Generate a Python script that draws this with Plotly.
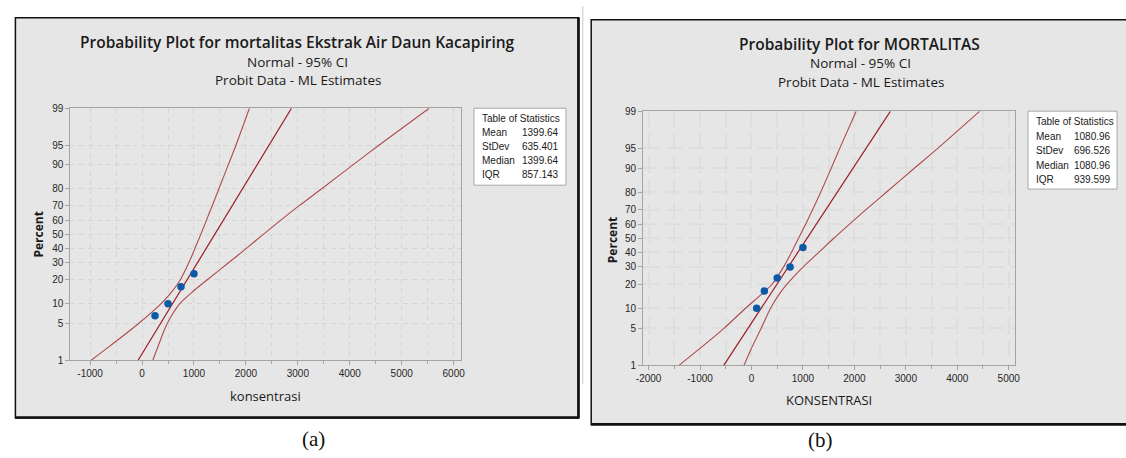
import plotly.graph_objects as go
from statistics import NormalDist

W, H = 1126, 458
_nd = NormalDist()


def pz(p):
    return _nd.inv_cdf(p / 100.0)


def fx(x):
    return x / W


def fy(y):
    return 1 - y / H


# ---------------- data: panel (a) ----------------
conc_a = [250, 500, 750, 1000]
mort_a = [6.67, 10.0, 16.67, 23.33]
ci_pct = [1, 2, 5, 10, 15, 20, 30, 40, 50, 60, 70, 80, 90, 95, 99]
ci_low_a = [-985, -610, -66, 362, 591, 735, 900, 1022, 1131, 1237, 1349, 1480, 1660, 1808, 2067]
ci_up_a = [206, 313, 485, 724, 1000, 1250, 1665, 2015, 2335, 2660, 3020, 3460, 4060, 4560, 5528]
mean_a, sd_a = 1399.64, 635.401
stat_names = ["Mean", "StDev", "Median", "IQR"]
stat_a = ["1399.64", "635.401", "1399.64", "857.143"]
xticks_a = [-1000, 0, 1000, 2000, 3000, 4000, 5000, 6000]

# ---------------- data: panel (b) ----------------
conc_b = [100, 250, 500, 750, 1000]
mort_b = [10.0, 16.67, 23.33, 30.0, 43.33]
ci_low_b = [-1408, -1050, -530, -115, 180, 400, 625, 780, 915, 1050, 1190, 1345, 1550, 1715, 2035]
ci_up_b = [-144, -20, 190, 370, 530, 690, 1005, 1313, 1600, 1900, 2225, 2620, 3165, 3620, 4438]
mean_b, sd_b = 1080.96, 696.526
stat_b = ["1080.96", "696.526", "1080.96", "939.599"]
xticks_b = [-2000, -1000, 0, 1000, 2000, 3000, 4000, 5000]

pct_ticks = [1, 5, 10, 20, 30, 40, 50, 60, 70, 80, 90, 95, 99]
fit_pct = [1, 99]

FIT_C = "#9e1a22"
CI_C = "#b04a4c"
PT_C = "#0b5aa8"
SANS = "Open Sans, Noto Sans, sans-serif"
SMALL = "Liberation Sans, Arial, sans-serif"

fig = go.Figure()


def add_panel(xa, ya, conc, mort, lo, up, mean, sd):
    fig.add_trace(go.Scatter(x=lo, y=[pz(p) for p in ci_pct], mode="lines",
                             line=dict(color=CI_C, width=1.1, shape="spline", smoothing=0.8),
                             xaxis=xa, yaxis=ya, hoverinfo="skip"))
    fig.add_trace(go.Scatter(x=up, y=[pz(p) for p in ci_pct], mode="lines",
                             line=dict(color=CI_C, width=1.1, shape="spline", smoothing=0.8),
                             xaxis=xa, yaxis=ya, hoverinfo="skip"))
    fig.add_trace(go.Scatter(x=[mean + pz(p) * sd for p in fit_pct], y=[pz(p) for p in fit_pct],
                             mode="lines", line=dict(color=FIT_C, width=1.2),
                             xaxis=xa, yaxis=ya, hoverinfo="skip"))
    fig.add_trace(go.Scatter(x=conc, y=[pz(p) for p in mort], mode="markers",
                             marker=dict(color=PT_C, size=7.5),
                             xaxis=xa, yaxis=ya))


add_panel("x", "y", conc_a, mort_a, ci_low_a, ci_up_a, mean_a, sd_a)
add_panel("x2", "y2", conc_b, mort_b, ci_low_b, ci_up_b, mean_b, sd_b)

tickfont = dict(family=SMALL, size=10, color="#262626")


def xaxis_cfg(domain, rng, ticks, dash, gcol, gw):
    return dict(domain=domain, range=rng, tickmode="array", tickvals=ticks,
                ticktext=[str(t) for t in ticks], showgrid=True,
                gridcolor=gcol, griddash=dash, gridwidth=gw, zeroline=False,
                showline=True, mirror=True, linecolor="#a4a4a4", linewidth=1,
                ticks="outside", ticklen=4, tickcolor="#a4a4a4", tickfont=tickfont,
                minor=dict(tickmode="linear", tick0=0, dtick=500, showgrid=True, gridcolor=gcol,
                           griddash=dash, gridwidth=gw, ticks="outside", ticklen=3,
                           tickcolor="#a4a4a4"),
                fixedrange=True)


def yaxis_cfg(domain, dash, gcol, gw):
    return dict(domain=domain, range=[pz(1), pz(99)], tickmode="array",
                tickvals=[pz(p) for p in pct_ticks], ticktext=[str(p) for p in pct_ticks],
                showgrid=True, gridcolor=gcol, griddash=dash, gridwidth=gw, zeroline=False,
                showline=True, mirror=True, linecolor="#a4a4a4", linewidth=1,
                ticks="outside", ticklen=4, tickcolor="#a4a4a4", tickfont=tickfont,
                fixedrange=True)


fig.update_layout(
    width=W, height=H, margin=dict(l=0, r=0, t=0, b=0),
    paper_bgcolor="white", plot_bgcolor="white", showlegend=False,
    xaxis=xaxis_cfg([fx(64), fx(459)], [-1381, 6143], xticks_a, "5px,4px", "#d6d6d6", 1),
    yaxis=yaxis_cfg([fy(364), fy(105)], "5px,4px", "#d6d6d6", 1),
    xaxis2=xaxis_cfg([fx(643), fx(1019)], [-2106, 5125], xticks_b, "16px,7px", "#dedede", 1.5),
    yaxis2=yaxis_cfg([fy(369), fy(108)], "16px,7px", "#dedede", 1.5),
)
fig.layout.yaxis2.anchor = "x2"
fig.layout.xaxis2.anchor = "y2"

shapes = []
for (x0, y0, x1, y1) in [(8.5, 12, 578, 423), (590.5, 14, 1140, 430)]:
    shapes.append(dict(type="rect", xref="paper", yref="paper", x0=fx(x0), y0=fy(y1),
                       x1=fx(x1), y1=fy(y0), fillcolor="#e6e6e6",
                       line=dict(color="#111111", width=1.5), layer="below"))
    shapes.append(dict(type="line", xref="paper", yref="paper", x0=fx(x0), y0=fy(y1 - 0.5),
                       x1=fx(x1), y1=fy(y1 - 0.5), line=dict(color="#111111", width=2.5), layer="below"))
    shapes.append(dict(type="line", xref="paper", yref="paper", x0=fx(x1 - 0.5), y0=fy(y0),
                       x1=fx(x1 - 0.5), y1=fy(y1), line=dict(color="#111111", width=2.5), layer="below"))
shapes.append(dict(type="line", xref="paper", yref="paper", x0=fx(582), y0=fy(0),
                   x1=fx(582), y1=fy(388), line=dict(color="#c8c8c8", width=1), layer="below"))
for (x0, y0, x1, y1) in [(472, 105, 565, 184), (1032, 108, 1122, 188)]:
    shapes.append(dict(type="rect", xref="paper", yref="paper", x0=fx(x0), y0=fy(y1),
                       x1=fx(x1), y1=fy(y0), fillcolor="white",
                       line=dict(color="#a8a8a8", width=1), layer="above"))
fig.update_layout(shapes=shapes)

ann = []


def text(x, y, s, size, family=SANS, color="#1a1a1a", xanchor="center", weight="normal", angle=0):
    ann.append(dict(xref="paper", yref="paper", x=fx(x), y=fy(y), text=s, showarrow=False,
                    xanchor=xanchor, yanchor="middle", textangle=angle,
                    font=dict(family=family, size=size, color=color, weight=weight)))


text(294, 37, "Probability Plot for mortalitas Ekstrak Air Daun Kacapiring", 15.5, weight=600)
text(294, 57, "Normal - 95% CI", 13.5)
text(294, 76, "Probit Data - ML Estimates", 13.5)
text(32, 235, "Percent", 12, weight="bold", angle=-90)
text(261.5, 400, "konsentrasi", 13)
text(862, 39, "Probability Plot for MORTALITAS", 15.5, weight=600)
text(863, 59, "Normal - 95% CI", 13.5)
text(863, 78, "Probit Data - ML Estimates", 13.5)
text(612, 240, "Percent", 12, weight="bold", angle=-90)
text(831, 405, "KONSENTRASI", 13)

text(478, 116, "Table of Statistics", 10, family=SMALL, xanchor="left")
for i, (n, v) in enumerate(zip(stat_names, stat_a)):
    yy = 130 + i * 14.5
    text(478, yy, n, 10, family=SMALL, xanchor="left")
    text(560, yy, v, 10, family=SMALL, xanchor="right")
text(1038, 119, "Table of Statistics", 10, family=SMALL, xanchor="left")
for i, (n, v) in enumerate(zip(stat_names, stat_b)):
    yy = 134 + i * 14.7
    text(1038, yy, n, 10, family=SMALL, xanchor="left")
    text(1118, yy, v, 10, family=SMALL, xanchor="right")

text(310, 445, "(a)", 21, family="Liberation Serif, DejaVu Serif, serif", color="#111111")
text(822, 446, "(b)", 21, family="Liberation Serif, DejaVu Serif, serif", color="#111111")

fig.update_layout(annotations=ann)
fig.write_html("out.html", config={"displayModeBar": False},
               post_script="document.body.style.margin='0';document.body.style.overflow='hidden';")
